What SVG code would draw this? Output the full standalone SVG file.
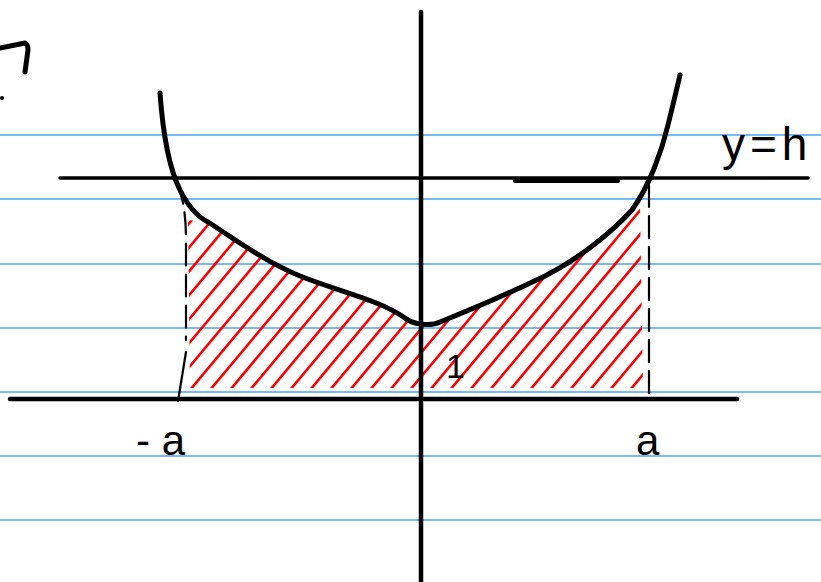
<svg xmlns="http://www.w3.org/2000/svg" width="821" height="582" viewBox="0 0 821 582">
<style>
.rule{stroke:#4aa3f0;stroke-width:1.3}
.ink{fill:none;stroke:#000;stroke-linecap:round;stroke-linejoin:round}
.hatch{stroke:#f00;stroke-width:2.6;stroke-linecap:round}
.lbl{font-family:"Liberation Sans",Arial,sans-serif;fill:#000}
</style>
<defs>
<clipPath id="area">
<path d="M188,220 L208,222 L250,248 L290,272 L340,292 L380,305 L410,322 L421,326 L435,324 L470,310 L520,290 L570,262 L610,232 L640,205 L643,388 L190,388 Z"/>
</clipPath>
</defs>
<rect width="821" height="582" fill="#fff"/>
<g id="ruled-lines">
<line class="rule" x1="0" y1="135" x2="821" y2="135"/>
<line class="rule" x1="0" y1="199" x2="821" y2="199"/>
<line class="rule" x1="0" y1="264" x2="821" y2="264"/>
<line class="rule" x1="0" y1="328" x2="821" y2="328"/>
<line class="rule" x1="0" y1="392" x2="821" y2="392"/>
<line class="rule" x1="0" y1="456" x2="821" y2="456"/>
<line class="rule" x1="0" y1="520" x2="821" y2="520"/>
</g>
<g id="hatching" clip-path="url(#area)">
<line class="hatch" x1="30" y1="390" x2="197" y2="190"/>
<line class="hatch" x1="50" y1="390" x2="217" y2="190"/>
<line class="hatch" x1="70" y1="390" x2="237" y2="190"/>
<line class="hatch" x1="90" y1="390" x2="257" y2="190"/>
<line class="hatch" x1="110" y1="390" x2="277" y2="190"/>
<line class="hatch" x1="130" y1="390" x2="297" y2="190"/>
<line class="hatch" x1="150" y1="390" x2="317" y2="190"/>
<line class="hatch" x1="170" y1="390" x2="337" y2="190"/>
<line class="hatch" x1="190" y1="390" x2="357" y2="190"/>
<line class="hatch" x1="210" y1="390" x2="377" y2="190"/>
<line class="hatch" x1="230" y1="390" x2="397" y2="190"/>
<line class="hatch" x1="250" y1="390" x2="417" y2="190"/>
<line class="hatch" x1="270" y1="390" x2="437" y2="190"/>
<line class="hatch" x1="290" y1="390" x2="457" y2="190"/>
<line class="hatch" x1="310" y1="390" x2="477" y2="190"/>
<line class="hatch" x1="330" y1="390" x2="497" y2="190"/>
<line class="hatch" x1="350" y1="390" x2="517" y2="190"/>
<line class="hatch" x1="370" y1="390" x2="537" y2="190"/>
<line class="hatch" x1="390" y1="390" x2="557" y2="190"/>
<line class="hatch" x1="410" y1="390" x2="577" y2="190"/>
<line class="hatch" x1="430" y1="390" x2="597" y2="190"/>
<line class="hatch" x1="450" y1="390" x2="617" y2="190"/>
<line class="hatch" x1="470" y1="390" x2="637" y2="190"/>
<line class="hatch" x1="490" y1="390" x2="657" y2="190"/>
<line class="hatch" x1="510" y1="390" x2="677" y2="190"/>
<line class="hatch" x1="530" y1="390" x2="697" y2="190"/>
<line class="hatch" x1="550" y1="390" x2="717" y2="190"/>
<line class="hatch" x1="570" y1="390" x2="737" y2="190"/>
<line class="hatch" x1="590" y1="390" x2="757" y2="190"/>
<line class="hatch" x1="610" y1="390" x2="777" y2="190"/>
<line class="hatch" x1="630" y1="390" x2="797" y2="190"/>
</g>
<g id="connectors">
<line id="y-axis" class="ink" stroke-width="4.5" x1="421" y1="12" x2="421" y2="582"/>
<line id="x-axis" class="ink" stroke-width="4.5" x1="10" y1="399" x2="737" y2="399"/>
<line id="line-y-h" class="ink" stroke-width="3.5" x1="60" y1="178" x2="808" y2="178"/>
<line class="ink" stroke-width="4" x1="515" y1="181" x2="618" y2="181"/>
<path id="dash-left" class="ink" stroke-width="2.2" stroke-dasharray="22,9" d="M176,183 Q186,200 186,240 L186,340"/>
<path class="ink" stroke-width="2.2" d="M186,352 L178,401"/>
<line id="dash-right" class="ink" stroke-width="2.2" stroke-dasharray="22,9" x1="649" y1="185" x2="649" y2="394"/>
</g>
<g id="parabola">
<path class="ink" stroke-width="5" d="M160,93 C163,135 170,170 180,190 C188,206 196,216 208,222 C230,236 265,262 300,276 C340,292 380,300 405,318 C412,324 430,327 440,322 C470,310 510,293 545,276 C580,258 612,232 632,210 C650,185 662,150 668,125 C673,105 677,88 680,75"/>
</g>
<g id="corner-mark">
<path class="ink" stroke-width="5" d="M0,48 L25,43 Q28,44 28,50 L25,72"/>
<circle cx="2" cy="98" r="2" fill="#000"/>
</g>
<g id="label-y-h"><text class="lbl" x="722" y="160" font-size="46" letter-spacing="5">y=h</text></g>
<g id="label-minus-a"><text class="lbl" x="136" y="455" font-size="42">- a</text></g>
<g id="label-a"><text class="lbl" x="636" y="455" font-size="42">a</text></g>
<g id="label-1"><text class="lbl" x="446" y="378" font-size="34">1</text></g>
</svg>
